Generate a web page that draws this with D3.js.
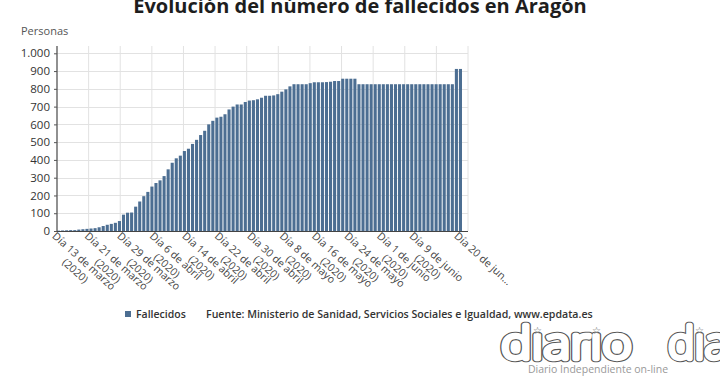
<!DOCTYPE html>
<html><head><meta charset="utf-8">
<script src="https://cdn.jsdelivr.net/npm/d3@7"></script>
<style>body{margin:0;background:#fff}svg{display:block}text{font-family:"Open Sans",sans-serif}</style>
</head><body><svg id="c" width="720" height="380"></svg>
<script>
const days = [
"13/03","14/03","15/03","16/03","17/03","18/03","19/03","20/03","21/03","22/03","23/03","24/03","25/03","26/03","27/03","28/03","29/03","30/03","31/03",
"01/04","02/04","03/04","04/04","05/04","06/04","07/04","08/04","09/04","10/04","11/04","12/04","13/04","14/04","15/04","16/04","17/04","18/04","19/04","20/04","21/04","22/04","23/04","24/04","25/04","26/04","27/04","28/04","29/04","30/04",
"01/05","02/05","03/05","04/05","05/05","06/05","07/05","08/05","09/05","10/05","11/05","12/05","13/05","14/05","15/05","16/05","17/05","18/05","19/05","20/05","21/05","22/05","23/05","24/05","25/05","26/05","27/05","28/05","29/05","30/05","31/05",
"01/06","02/06","03/06","04/06","05/06","06/06","07/06","08/06","09/06","10/06","11/06","12/06","13/06","14/06","15/06","16/06","17/06","18/06","19/06","20/06"];
const fallecidos = [
2,3,4,5,5,8,10,12,14,16,21,28,35,40,46,56,92,103,104,137,
166,196,220,250,270,285,309,347,384,409,424,450,463,490,513,540,564,600,620,638,
643,657,684,700,712,712,726,734,736,741,750,761,761,763,770,784,797,814,826,826,
826,826,832,837,837,837,838,840,844,844,857,857,857,857,826,826,826,826,826,826,
826,826,826,826,826,826,826,826,826,826,826,826,826,826,826,826,826,826,912,912];
const tickDays = ["13/03","21/03","29/03","06/04","14/04","22/04","30/04","08/05","16/05","24/05","01/06","09/06","20/06"];
const tickLine1 = ["Día 13 de marzo","Día 21 de marzo","Día 29 de marzo","Día 6 de abril","Día 14 de abril","Día 22 de abril","Día 30 de abril","Día 8 de mayo","Día 16 de mayo","Día 24 de mayo","Día 1 de junio","Día 9 de junio","Día 20 de jun…"];
const tickLine2 = ["(2020)","(2020)","(2020)","(2020)","(2020)","(2020)","(2020)","(2020)","(2020)","(2020)","(2020)","(2020)",""];
const yTicks = [0,100,200,300,400,500,600,700,800,900,1000];
const seriesName = "Fallecidos";
const chartTitle = "Evolución del número de fallecidos en Aragón";
const yTitle = "Personas";
const source = "Fuente: Ministerio de Sanidad, Servicios Sociales e Igualdad, www.epdata.es";
const logoWords = ["dıarıo", "dıa"];
const logoTagline = "Diario Independiente on-line";

(function () {
const barColor = "#4c6e92";
const svg = d3.select("#c");
const pL = 57, pR = 468, pT = 46, pB = 231;
const x = d3.scaleBand().domain(days).range([pL, 462]).paddingInner(0.24).paddingOuter(0);
const y = d3.scaleLinear().domain([0, 1000]).range([pB, 53.3]);
const gx = d3.scaleLinear().domain([0, 13]).range([pL, pR]);

// grid
svg.append("g").selectAll("line").data(d3.range(1, 14)).join("line")
  .attr("x1", d => gx(d)).attr("x2", d => gx(d)).attr("y1", pT).attr("y2", pB)
  .attr("stroke", "#e2e2e2").attr("stroke-width", 1);
svg.append("g").selectAll("line").data(yTicks.slice(1)).join("line")
  .attr("x1", pL).attr("x2", pR).attr("y1", d => Math.round(y(d)) + 0.5).attr("y2", d => Math.round(y(d)) + 0.5)
  .attr("stroke", "#e2e2e2").attr("stroke-width", 1);

// bars
svg.append("g").selectAll("rect").data(days).join("rect")
  .attr("x", (d) => x(d)).attr("width", x.bandwidth())
  .attr("y", (d, i) => y(fallecidos[i])).attr("height", (d, i) => pB - y(fallecidos[i]))
  .attr("fill", barColor);

// y axis
const loc = d3.formatLocale({decimal: ",", thousands: ".", grouping: [3], currency: ["", "€"]});
const yAxis = svg.append("g").attr("transform", `translate(${pL},0)`)
  .call(d3.axisLeft(y).tickValues(yTicks).tickSize(3).tickPadding(4).tickFormat(loc.format(",")));
yAxis.select(".domain").remove();
yAxis.selectAll(".tick line").attr("stroke", "#555");
yAxis.selectAll(".tick text").attr("font-size", "11.5px").attr("fill", "#333").attr("font-family", "Open Sans");
svg.append("line").attr("x1", pL).attr("x2", pL).attr("y1", pT).attr("y2", pB + 1)
  .attr("stroke", "#555").attr("stroke-width", 1.3);
svg.append("line").attr("x1", pL).attr("x2", pR).attr("y1", pB + 0.5).attr("y2", pB + 0.5)
  .attr("stroke", "#444").attr("stroke-width", 1);

// x labels
const xl = svg.append("g").selectAll("g").data(tickDays).join("g")
  .attr("transform", d => `translate(${x(d) + x.bandwidth() / 2 - 7},237) rotate(42)`);
xl.each(function (d, i) {
  const g = d3.select(this);
  const t1 = g.append("text").attr("font-size", "10.6px").attr("fill", "#444").text(tickLine1[i]);
  const w = t1.node().getComputedTextLength();
  if (tickLine2[i]) g.append("text").attr("font-size", "10.6px").attr("fill", "#444")
    .attr("x", w / 2).attr("y", 13).attr("text-anchor", "middle").text(tickLine2[i]);
});

// title
svg.append("text").attr("x", 360).attr("y", 13).attr("text-anchor", "middle")
  .attr("font-size", "20px").attr("font-weight", 700).attr("fill", "#1e1e1e").text(chartTitle);
svg.append("text").attr("x", 21).attr("y", 35).attr("font-size", "11px").attr("fill", "#555").text(yTitle);

// legend
svg.append("rect").attr("x", 125).attr("y", 311).attr("width", 6).attr("height", 6).attr("fill", barColor);
svg.append("text").attr("x", 136).attr("y", 318).attr("font-size", "10.5px").attr("font-weight", 600).attr("fill", "#333").text(seriesName);
svg.append("text").attr("x", 206).attr("y", 318).attr("font-size", "10.6px").attr("font-weight", 600).attr("fill", "#333").text(source);

// logo (outlined tube letters)
const logoX = [501, 668];
const logoW = [131, 60];
const lg = svg.append("g");
[["#555", 6.5], ["#fff", 4.3]].forEach(([col, sw]) => {
  lg.append("g").selectAll("text").data(logoWords).join("text")
    .attr("x", (d, i) => logoX[i]).attr("y", 359)
    .attr("textLength", (d, i) => logoW[i]).attr("lengthAdjust", "spacingAndGlyphs")
    .attr("font-family", "DejaVu Sans").attr("font-weight", 200).attr("font-size", "44px")
    .attr("fill", "#fff").attr("stroke", col).attr("stroke-width", sw)
    .attr("stroke-linejoin", "round").attr("stroke-linecap", "round")
    .text(d => d);
});
const starPos = [];
lg.select("g").selectAll("text").each(function (d) {
  for (let k = 0; k < d.length; k++) if (d[k] === "ı") {
    const e = this.getExtentOfChar(k);
    starPos.push(e.x + e.width / 2);
  }
});
lg.append("g").selectAll("text").data(starPos).join("text")
  .attr("x", d => d).attr("y", 334).attr("text-anchor", "middle")
  .attr("font-family", "DejaVu Sans").attr("font-size", "10px").attr("fill", "#666").text("☆");
svg.append("text").attr("x", 598).attr("y", 373).attr("text-anchor", "middle")
  .attr("font-size", "10.5px").attr("fill", "#999").text(logoTagline);
})();
</script></body></html>
